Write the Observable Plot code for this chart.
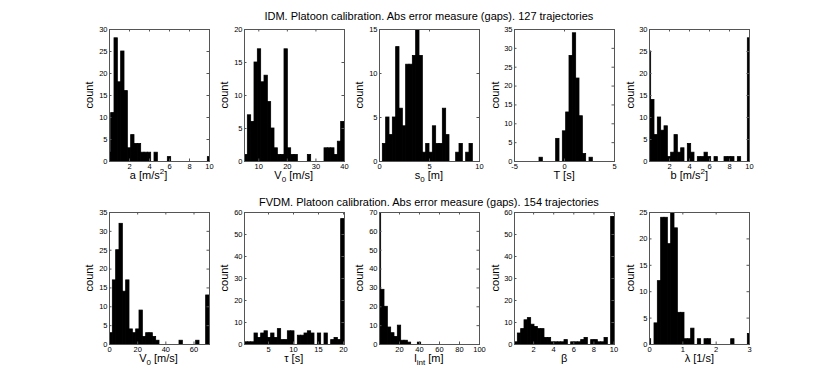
<!DOCTYPE html>
<html><head><meta charset="utf-8">
<script src="https://cdn.jsdelivr.net/npm/d3@7"></script>
<script src="https://cdn.jsdelivr.net/npm/@observablehq/plot@0.6"></script>
<style>
body{margin:0;background:#fff;}
#fig{position:relative;width:830px;height:387px;font-family:"Liberation Sans",Arial,Helvetica,sans-serif;color:#000;overflow:hidden;background:#fff}
.title{position:absolute;font-size:11px;line-height:11px;white-space:nowrap;transform:translateX(-50%)}
.xl{position:absolute;font-size:11px;line-height:8px;white-space:nowrap;transform:translateX(-50%)}
.yl{position:absolute;font-size:11px;line-height:11px;white-space:nowrap;transform:translate(-50%,-50%) rotate(-90deg)}
.panel{position:absolute}
sub,sup{font-size:8px;line-height:0}
</style></head><body><div id="fig"></div>
<script>
// ---------- data ----------
const titles = [
  "IDM. Platoon calibration. Abs error measure (gaps). 127 trajectories",
  "FVDM. Platoon calibration. Abs error measure (gaps). 154 trajectories"
];
// IDM row
const aCounts  = [2,11,28,18,25,16,3,6,4,4,2,2,2,0,2,0,0,0,1,0,0,0,0,0,0,0,0,0,0,0,1];
const aBins    = [-1/6, 1/3];           // first bin edge, bin width
const v0iCounts = [1,7,6,15,17,12,13,9,5,2,1,1,17,2,1,1,0,0,0,1,0,0,0,0,2,2,2,1,3,6];
const v0iBins   = [5, 35/30];
const s0Counts = [2,5,3,5,13,6,4,11,11,12,15,12,1,2,1,4,2,2,6,3,0,0,1,2,0,1,2];
const s0Bins   = [1/3, 1/3];
const tCounts  = [0,0,0,0,0,0,0,1,0,0,0,0,6,0,8,13,28,34,22,12,2,0,1,0,0,0,0,0,0,0];
const tBins    = [-29/6, 1/3];
const bCounts  = [25,14,6,10,7,8,1,2,6,2,3,0,4,2,0,1,1,2,1,0,1,0,0,1,1,1,0,1,0,0,28];
const bBins    = [-1/6, 1/3];
// FVDM row
const v0fCounts = [3,17,25,32,14,17,4,3,4,9,2,3,3,2,1,0,0,0,0,0,0,1,0,0,0,0,1,0,0,13];
const v0fBins   = [0, 71/30];
const tauCounts = [1,1,1,5,3,5,6,3,5,3,7,2,2,6,6,0,4,4,5,6,5,0,5,0,5,0,2,3,2,57];
const tauBins   = [0.2, 2/3];
const lintCounts = [70,29,20,9,6,4,10,2,2,1,0,0,1,0,0,0,0,0,0,0,0,0,0,0,0,0,0,0,0,0,0];
const lintBins   = [-5/3, 10/3];
const betaCounts = [1,5,7,11,12,9,8,7,7,3,3,1,1,1,1,2,0,1,1,1,2,3,0,2,2,1,1,3,0,58];
const betaBins   = [0.1, 9.95/30];
const lamCounts  = [1,0,4,12,24,24,19,25,22,6,6,1,1,3,0,1,0,1,1,0,0,0,0,0,0,1,0,0,0,0,2];
const lamBins    = [-0.05, 0.1];

// axes: x domains, x ticks, y max, y ticks
const xDomains = [[0,10],[5,40],[0,10],[-5,5],[0,10],[0,71],[0.2,20.2],[0,100],[0.1,10.05],[0,3]];
const xTicks = [[2,4,6,8,10],[10,20,30,40],[0,5,10],[-5,0,5],[2,4,6,8,10],
                [0,20,40,60],[5,10,15,20],[20,40,60,80,100],[2,4,6,8,10],[0,1,2,3]];
const yMaxes = [30,20,15,35,30,35,60,70,60,25];
const yTicks = [[0,5,10,15,20,25,30],[0,5,10,15,20],[0,5,10,15],[0,5,10,15,20,25,30,35],
                [0,5,10,15,20,25,30],[0,5,10,15,20,25,30,35],[0,10,20,30,40,50,60],
                [0,10,20,30,40,50,60,70],[0,10,20,30,40,50,60],[0,5,10,15,20,25]];
const xLabels = ["a [m/s<sup>2</sup>]","V<sub>0</sub> [m/s]","s<sub>0</sub> [m]","T [s]","b [m/s<sup>2</sup>]",
                 "V<sub>0</sub> [m/s]","τ [s]","l<sub>int</sub> [m]","β","λ [1/s]"];
const yLabel = "count";

const counts = [aCounts,v0iCounts,s0Counts,tCounts,bCounts,v0fCounts,tauCounts,lintCounts,betaCounts,lamCounts];
const bins = [aBins,v0iBins,s0Bins,tBins,bBins,v0fBins,tauBins,lintBins,betaBins,lamBins];

// ---------- layout ----------
const fig = document.getElementById("fig");
const FONT = '"Liberation Sans", Arial, Helvetica, sans-serif';
const W = 100, H = 132;
const ml = 30, mr = 5, mt = 5, mb = 16;
const colLeft = [108.5, 243.7, 378.9, 514.1, 649.3];
const rowTop = [29, 212];
const titleTop = [11, 197];
const labelShift = [-10,0,0,0,-10,0,0,0,0,0];
const TL = 2.5; // inward tick length

for (let i = 0; i < 10; i++) {
  const row = Math.floor(i / 5), col = i % 5;
  const left = colLeft[col], top = rowTop[row];
  const [b0, bw] = bins[i];
  const data = counts[i].map((c, k) => ({x1: b0 + k * bw, x2: b0 + (k + 1) * bw, c})).filter(d => d.c > 0);
  const chart = Plot.plot({
    width: W + ml + mr, height: H + mt + mb,
    marginLeft: ml, marginRight: mr, marginTop: mt, marginBottom: mb,
    style: {fontFamily: FONT, fontSize: "7.5px", color: "#000", background: "transparent", overflow: "visible"},
    x: {domain: xDomains[i], label: null},
    y: {domain: [0, yMaxes[i]], label: null},
    marks: [
      Plot.rectY(data, {x1: "x1", x2: "x2", y: "c", fill: "black", stroke: "black", strokeWidth: 0.8, clip: true}),
      Plot.ruleY([0], {stroke: "black", strokeWidth: 1, strokeDasharray: "1,1"}),
      Plot.frame({stroke: "#555", strokeWidth: 1}),
      Plot.ruleX(xTicks[i], {insetTop: H - TL, stroke: "#555"}),
      Plot.ruleX(xTicks[i], {insetBottom: H - TL, stroke: "#555"}),
      Plot.ruleY(yTicks[i], {insetRight: W - TL, stroke: "#555"}),
      Plot.ruleY(yTicks[i], {insetLeft: W - TL, stroke: "#555"}),
      Plot.axisX({ticks: xTicks[i], tickSize: 0, tickPadding: 2, tickFormat: d => String(d), label: null}),
      Plot.axisY({ticks: yTicks[i], tickSize: 0, tickPadding: 2, tickFormat: d => String(d), label: null})
    ]
  });
  const wrap = document.createElement("div");
  wrap.className = "panel";
  wrap.style.left = (left - ml) + "px";
  wrap.style.top = (top - mt) + "px";
  wrap.appendChild(chart);
  fig.appendChild(wrap);

  const yl = document.createElement("div");
  yl.className = "yl";
  yl.textContent = yLabel;
  yl.style.left = (left - 19.5) + "px";
  yl.style.top = (top + H / 2) + "px";
  fig.appendChild(yl);

  const xl = document.createElement("div");
  xl.className = "xl";
  xl.innerHTML = xLabels[i];
  xl.style.left = (left + W / 2 + labelShift[i]) + "px";
  xl.style.top = (top + H + 9.5) + "px";
  fig.appendChild(xl);
}
for (let r = 0; r < 2; r++) {
  const t = document.createElement("div");
  t.className = "title";
  t.textContent = titles[r];
  t.style.left = (colLeft[2] + W / 2) + "px";
  t.style.top = titleTop[r] + "px";
  fig.appendChild(t);
}
</script></body></html>
